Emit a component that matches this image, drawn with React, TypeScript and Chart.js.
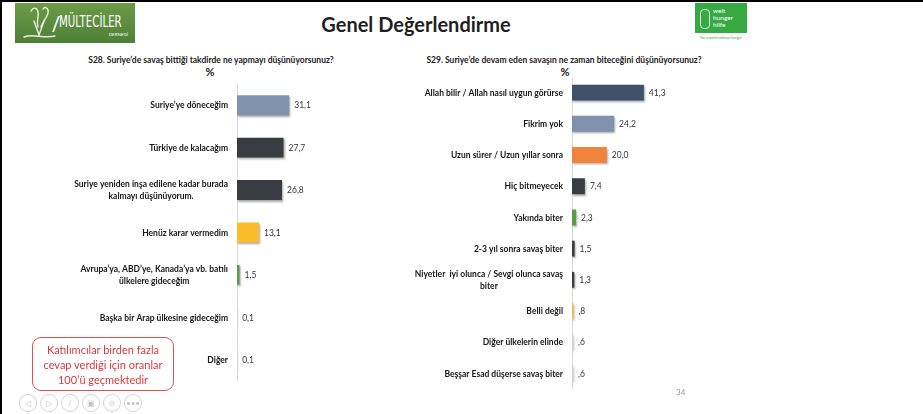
import React, { useEffect, useRef } from "react";
import { Chart, registerables } from "chart.js";

Chart.register(...registerables);

const FONT = "Lato, 'Open Sans', sans-serif";

const pageTitle = "Genel Değerlendirme";
const s28Title = "S28. Suriye’de savaş bittiği takdirde ne yapmayı düşünüyorsunuz?";
const s29Title = "S29. Suriye’de devam eden savaşın ne zaman biteceğini düşünüyorsunuz?";
const unitLabel = "%";
const noteLines = ["Katılımcılar birden fazla", "cevap verdiği için oranlar", "100’ü geçmektedir"];
const pageNumber = "34";

const SLATE = "#7f93ae";
const DARK = "#393c40";
const YELLOW = "#fbbc2c";
const GREEN = "#5b9a47";
const LIGHT = "#d2d2d2";
const NAVY = "#3f5169";
const ORANGE = "#f0843c";

const s28Categories: (string | string[])[] = [
  "Suriye’ye döneceğim",
  "Türkiye de kalacağım",
  ["Suriye yeniden inşa edilene kadar burada", "kalmayı düşünüyorum."],
  "Henüz karar vermedim",
  ["Avrupa’ya, ABD’ye, Kanada’ya vb. batılı", "ülkelere gideceğim"],
  "Başka bir Arap ülkesine gideceğim",
  "Diğer",
];
const s28Values = [31.1, 27.7, 26.8, 13.1, 1.5, 0.1, 0.1];
const s28Colors = [SLATE, DARK, DARK, YELLOW, GREEN, LIGHT, LIGHT];

const s29Categories: (string | string[])[] = [
  "Allah bilir / Allah nasıl uygun görürse",
  "Fikrim yok",
  "Uzun sürer / Uzun yıllar sonra",
  "Hiç bitmeyecek",
  "Yakında biter",
  "2-3 yıl sonra savaş biter",
  ["Niyetler  iyi olunca / Sevgi olunca savaş", "biter"],
  "Belli değil",
  "Diğer ülkelerin elinde",
  "Beşşar Esad düşerse savaş biter",
];
const s29Values = [41.3, 24.2, 20.0, 7.4, 2.3, 1.5, 1.3, 0.8, 0.6, 0.6];
const s29Colors = [NAVY, SLATE, ORANGE, DARK, GREEN, DARK, DARK, YELLOW, LIGHT, LIGHT];

function fmt(v: number, leadingZero: boolean) {
  let s = v.toFixed(1).replace(".", ",");
  if (!leadingZero && v < 1) s = s.replace(/^0/, "");
  return s;
}

const slidePlugin = {
  id: "slideBars",
  beforeDatasetsDraw(chart: any) {
    const c = chart.ctx;
    c.save();
    c.shadowColor = "rgba(0,0,0,0.35)";
    c.shadowBlur = 2;
    c.shadowOffsetX = 1;
    c.shadowOffsetY = 1.5;
  },
  afterDatasetsDraw(chart: any, _args: any, opts: any) {
    const c = chart.ctx;
    c.restore();
    c.save();
    c.font = `${opts.valueSize}px ${FONT}`;
    c.fillStyle = "#353535";
    c.textAlign = "left";
    c.textBaseline = "middle";
    const meta = chart.getDatasetMeta(0);
    const data = chart.data.datasets[0].data as number[];
    meta.data.forEach((bar: any, i: number) => {
      c.fillText(fmt(data[i], opts.leadingZero), bar.x + opts.valueGap, bar.y + 0.5);
    });
    c.font = `bold ${opts.labelSize}px ${FONT}`;
    c.fillStyle = "#161616";
    c.textAlign = "center";
    const y = chart.scales.y;
    (chart.data.labels as (string | string[])[]).forEach((lab, i) => {
      const lines = Array.isArray(lab) ? lab : [lab];
      const w = Math.max(...lines.map((l) => c.measureText(l).width));
      const cx = chart.chartArea.left - opts.labelGap - w / 2;
      const yc = y.getPixelForValue(i);
      lines.forEach((l, j) =>
        c.fillText(l, cx, yc + 0.5 + (j - (lines.length - 1) / 2) * opts.lineHeight)
      );
    });
    c.restore();
  },
};

type BarProps = {
  labels: (string | string[])[];
  values: number[];
  colors: string[];
  max: number;
  axisWidth: number;
  width: number;
  height: number;
  left: number;
  top: number;
  barPct: number;
  leadingZero: boolean;
};

function BarChart(p: BarProps) {
  const ref = useRef<HTMLCanvasElement>(null);
  useEffect(() => {
    const chart = new Chart(ref.current!, {
      type: "bar",
      data: {
        labels: p.labels as any,
        datasets: [
          {
            data: p.values,
            backgroundColor: p.colors,
            borderWidth: 0,
            barPercentage: p.barPct,
            categoryPercentage: 1,
          },
        ],
      },
      options: {
        indexAxis: "y",
        responsive: false,
        animation: false,
        events: [],
        layout: { padding: 0 },
        plugins: {
          legend: { display: false },
          tooltip: { enabled: false },
          slideBars: {
            valueSize: 8.5,
            labelSize: 8.5,
            lineHeight: 12,
            labelGap: 9,
            valueGap: 5,
            leadingZero: p.leadingZero,
          },
        } as any,
        scales: {
          x: { display: false, min: 0, max: p.max },
          y: {
            grid: { display: false },
            border: { display: true, color: "#d9d9d9", width: 1 },
            ticks: { display: false },
            afterFit: (s: any) => {
              s.width = p.axisWidth;
            },
          },
        },
      },
      plugins: [slidePlugin],
    });
    return () => chart.destroy();
  }, []);
  return (
    <canvas
      ref={ref}
      width={p.width}
      height={p.height}
      style={{ position: "absolute", left: p.left, top: p.top, width: p.width, height: p.height }}
    />
  );
}

function NavCircle({ x, glyph }: { x: number; glyph: string }) {
  return (
    <div
      style={{
        position: "absolute",
        left: x - 9,
        top: 394,
        width: 16,
        height: 16,
        borderRadius: "50%",
        border: "1px solid #d4d4d4",
        color: "#c4c4c4",
        fontSize: 8,
        lineHeight: "16px",
        textAlign: "center",
        fontFamily: FONT,
      }}
    >
      {glyph}
    </div>
  );
}

export default function App() {
  return (
    <div
      style={{
        position: "fixed",
        left: 0,
        top: 0,
        width: 923,
        height: 414,
        background: "#fff",
        overflow: "hidden",
        fontFamily: FONT,
      }}
    >
      <div style={{ position: "absolute", left: 0, top: 0, width: 923, height: 2, background: "#000" }} />
      <div style={{ position: "absolute", left: 0, top: 0, width: 2, height: 414, background: "#000" }} />

      {/* Mülteciler logo */}
      <div
        style={{
          position: "absolute",
          left: 15,
          top: 3,
          width: 120,
          height: 40,
          background: "linear-gradient(180deg,#6b9b47,#4f7f36)",
        }}
      >
        <svg width="44" height="40" style={{ position: "absolute", left: 0, top: 0 }}>
          <g fill="none" stroke="rgba(255,255,255,0.85)" strokeWidth="1.4" strokeLinecap="round">
            <path d="M16 8 C18 4, 22 4, 23 9 C24 14, 21 18, 23 24" />
            <path d="M28 6 C30 3, 34 5, 33 10 C32 15, 28 18, 26 24" />
            <path d="M19 18 L24 32 L29 18" />
            <path d="M9 34 C18 30, 28 36, 40 33" />
          </g>
        </svg>
        <div style={{ position: "absolute", left: 40, top: 13, width: 1.5, height: 16, background: "rgba(255,255,255,0.85)", transform: "skewX(-20deg)" }} />
        <div
          style={{
            position: "absolute",
            left: 44,
            top: 11,
            color: "#fff",
            fontSize: 15,
            fontFamily: "'Liberation Sans Narrow', 'DejaVu Sans Condensed', sans-serif",
            lineHeight: "16px",
            transform: "scaleX(0.76)",
            transformOrigin: "left center",
            whiteSpace: "nowrap",
          }}
        >
          MÜLTECİLER
        </div>
        <div style={{ position: "absolute", right: 7, top: 29, color: "#fff", fontSize: 4.5, lineHeight: "6px" }}>
          DERNEĞİ
        </div>
      </div>

      {/* Title */}
      <div
        style={{
          position: "absolute",
          left: 266,
          top: 11,
          width: 300,
          textAlign: "center",
          fontSize: 20,
          fontWeight: 700,
          color: "#1f1f1f",
          lineHeight: "26px",
        }}
      >
        {pageTitle}
      </div>

      {/* WHH logo */}
      <div style={{ position: "absolute", left: 695, top: 3, width: 52, height: 30, background: "#37a942" }}>
        <div style={{ position: "absolute", left: 5, top: 6, width: 8, height: 18, border: "1px solid rgba(255,255,255,0.85)", borderRadius: "4px" }} />
        <div style={{ position: "absolute", left: 18, top: 4, color: "#fff", fontSize: 6.5, lineHeight: "7px" }}>
          welt
          <br />
          hunger
          <br />
          hilfe
        </div>
      </div>
      <div style={{ position: "absolute", left: 690, top: 36, width: 62, textAlign: "center", color: "#37a942", fontSize: 3.5, lineHeight: "4px" }}>
        For a world without hunger
      </div>

      {/* Subtitles */}
      <div style={{ position: "absolute", left: 30, top: 54, width: 362, textAlign: "center", fontSize: 8.5, fontWeight: 700, color: "#222", lineHeight: "12px" }}>
        {s28Title}
      </div>
      <div style={{ position: "absolute", left: 190, top: 65, width: 40, textAlign: "center", fontSize: 11, fontWeight: 700, color: "#222", lineHeight: "14px" }}>
        {unitLabel}
      </div>
      <div style={{ position: "absolute", left: 383, top: 54, width: 362, textAlign: "center", fontSize: 8.5, fontWeight: 700, color: "#222", lineHeight: "12px" }}>
        {s29Title}
      </div>
      <div style={{ position: "absolute", left: 545, top: 65, width: 40, textAlign: "center", fontSize: 11, fontWeight: 700, color: "#222", lineHeight: "14px" }}>
        {unitLabel}
      </div>

      <BarChart
        labels={s28Categories}
        values={s28Values}
        colors={s28Colors}
        max={100}
        axisWidth={217}
        width={385}
        height={297}
        left={20}
        top={84}
        barPct={0.47}
        leadingZero={true}
      />
      <BarChart
        labels={s29Categories}
        values={s29Values}
        colors={s29Colors}
        max={100}
        axisWidth={167}
        width={341}
        height={312}
        left={405}
        top={77}
        barPct={0.51}
        leadingZero={false}
      />

      {/* Note box */}
      <div
        style={{
          position: "absolute",
          left: 32,
          top: 337,
          width: 142,
          height: 54,
          border: "1px solid #d9534f",
          borderRadius: 9,
          color: "#d9383a",
          fontSize: 11,
          lineHeight: "15px",
          textAlign: "center",
          paddingTop: 4,
          boxSizing: "border-box",
        }}
      >
        {noteLines.map((l, i) => (
          <div key={i}>{l}</div>
        ))}
      </div>

      <NavCircle x={28} glyph="◁" />
      <NavCircle x={49} glyph="▷" />
      <NavCircle x={70} glyph="/" />
      <NavCircle x={91} glyph="▣" />
      <NavCircle x={112} glyph="○" />
      <NavCircle x={133} glyph="•••" />

      <div style={{ position: "absolute", left: 676, top: 387, color: "#9a9a9a", fontSize: 8, lineHeight: "10px" }}>
        {pageNumber}
      </div>
    </div>
  );
}
